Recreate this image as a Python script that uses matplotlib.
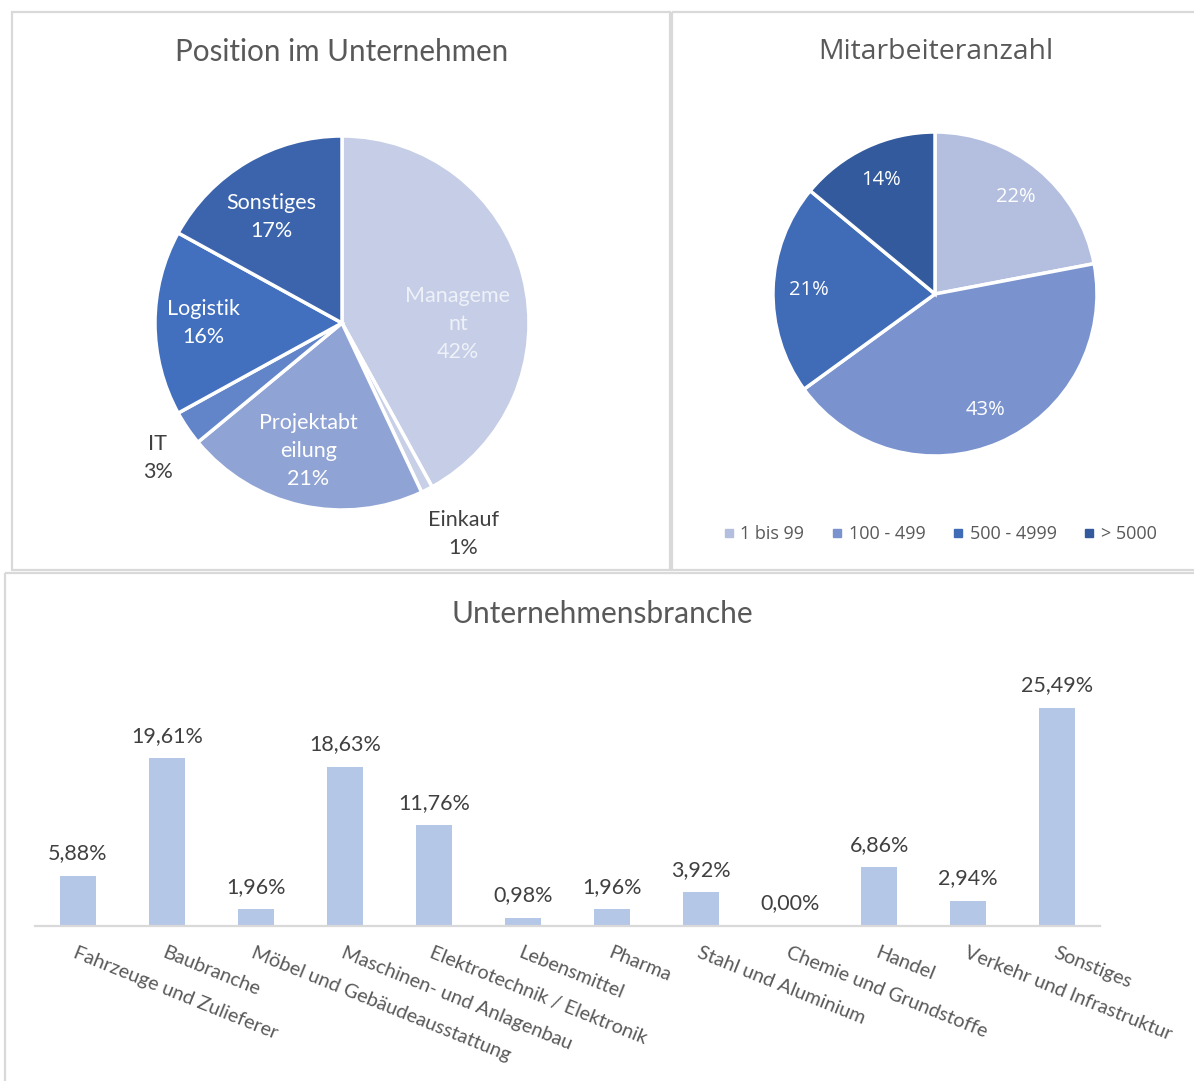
import numpy as np
import matplotlib.pyplot as plt
from matplotlib.patches import Rectangle
from matplotlib.lines import Line2D

# --- data ---
pos_labels = ['Manageme\nnt', 'Einkauf', 'Projektabt\neilung', 'IT', 'Logistik', 'Sonstiges']
pos_values = [42, 1, 21, 3, 16, 17]
pos_colors = ['#C5CEE6', '#C8D0E8', '#8FA3D4', '#6285C9', '#4270BE', '#3C64AC']

emp_labels = ['1 bis 99', '100 - 499', '500 - 4999', '> 5000']
emp_values = [22, 43, 21, 14]
emp_colors = ['#B4BFE0', '#7A93CF', '#3F6BB7', '#325A9C']

branches = ['Fahrzeuge und Zulieferer', 'Baubranche', 'Möbel und Gebäudeausstattung',
            'Maschinen- und Anlagenbau', 'Elektrotechnik / Elektronik', 'Lebensmittel',
            'Pharma', 'Stahl und Aluminium', 'Chemie und Grundstoffe', 'Handel',
            'Verkehr und Infrastruktur', 'Sonstiges']
branch_values = [5.88, 19.61, 1.96, 18.63, 11.76, 0.98, 1.96, 3.92, 0.00, 6.86, 2.94, 25.49]

W, H = 1194, 1081
OPEN = ['Open Sans', 'DejaVu Sans']
plt.rcParams['font.family'] = ['Lato', 'DejaVu Sans']

fig = plt.figure(figsize=(W / 100, H / 100), dpi=100)

def px_axes(x0, y0, x1, y1, **kw):
    # axes from a pixel box, origin top-left
    return fig.add_axes([x0 / W, 1 - y1 / H, (x1 - x0) / W, (y1 - y0) / H], **kw)

# panel frames
bg = px_axes(0, 0, W, H)
bg.set_xlim(0, W); bg.set_ylim(H, 0); bg.axis('off')
for (x0, y0, x1, y1) in [(12, 12, 670, 570), (672, 12, 1200, 570), (5, 573, 1200, 1090)]:
    bg.add_patch(Rectangle((x0, y0), x1 - x0, y1 - y0, fill=False, ec='#D9D9D9', lw=1.6))

# --- pie 1 ---
cx, cy, r = 342, 323, 187
ax1 = px_axes(cx - 200, cy - 200, cx + 200, cy + 200)
wedges, _ = ax1.pie(pos_values, colors=pos_colors, startangle=90, counterclock=False,
                    radius=1, wedgeprops=dict(edgecolor='white', linewidth=2.5))
ax1.set_xlim(-200 / r, 200 / r); ax1.set_ylim(-200 / r, 200 / r)
ax1.set_aspect('equal')
lab_dist = [0.62, 1.30, 0.71, 1.22, 0.74, 0.68]
lab_shift = [-15, 3, -2, 2, 0, 3]
inside = [True, False, True, False, True, True]
for w, lab, v, d, s, ins in zip(wedges, pos_labels, pos_values, lab_dist, lab_shift, inside):
    a = np.deg2rad((w.theta1 + w.theta2) / 2 + s)
    ax1.text(d * np.cos(a), d * np.sin(a), f'{lab}\n{v}%', ha='center', va='center',
             fontsize=15.5, linespacing=1.5,
             color=('#EEF1F8' if v > 30 else 'white') if ins else '#404040')

# --- pie 2 ---
cx2, cy2, r2 = 935, 294, 162
ax2 = px_axes(cx2 - 200, cy2 - 200, cx2 + 200, cy2 + 200)
w2, _, pct = ax2.pie(emp_values, colors=emp_colors, startangle=90, counterclock=False,
                     radius=1, autopct='%.0f%%', pctdistance=0.78,
                     wedgeprops=dict(edgecolor='white', linewidth=2.5),
                     textprops=dict(color='white', fontsize=14.5, family=OPEN))
ax2.set_xlim(-200 / r2, 200 / r2); ax2.set_ylim(-200 / r2, 200 / r2)
ax2.set_aspect('equal')

handles = [Line2D([], [], marker='s', ls='none', color=c, markersize=6) for c in emp_colors]
fig.legend(handles, emp_labels, loc='center', bbox_to_anchor=(940 / W, 1 - 534 / H),
           ncol=4, frameon=False, handlelength=0.6, handletextpad=0.35, columnspacing=1.5,
           prop=dict(family=OPEN, size=13), labelcolor='#595959')

# titles
fig.text(342 / W, 1 - 52 / H, 'Position im Unternehmen', ha='center', va='center',
         fontsize=21.3, color='#595959')
fig.text(936 / W, 1 - 52 / H, 'Mitarbeiteranzahl', ha='center', va='center',
         fontsize=20.4, color='#595959', family=OPEN)
fig.text(602 / W, 1 - 614 / H, 'Unternehmensbranche', ha='center', va='center',
         fontsize=21.5, color='#595959')

# --- bar chart ---
ppu = 8.55
ax3 = px_axes(35, 926 - 27 * ppu, 1100, 926)
x = np.arange(len(branches))
ax3.bar(x, branch_values, width=0.40, color='#B4C7E7')
ax3.set_xlim(-0.48, len(branches) - 0.52)
ax3.set_ylim(0, 27)
for s in ['top', 'right', 'left']:
    ax3.spines[s].set_visible(False)
ax3.spines['bottom'].set_color('#D9D9D9')
ax3.spines['bottom'].set_linewidth(1.6)
ax3.set_yticks([])
ax3.set_xticks(x)
ax3.set_xticklabels(branches, rotation=-22, ha='left', va='top', rotation_mode='anchor',
                    fontsize=14.2, color='#595959')
ax3.tick_params(axis='x', length=0, pad=13)
for xi, v in zip(x, branch_values):
    ax3.annotate(f'{v:.2f}%'.replace('.', ','), (xi, v), xytext=(0, 9),
                 textcoords='offset points', ha='center', va='bottom',
                 fontsize=15.5, color='#404040')

fig.savefig('out.png', dpi=100, facecolor='white')
